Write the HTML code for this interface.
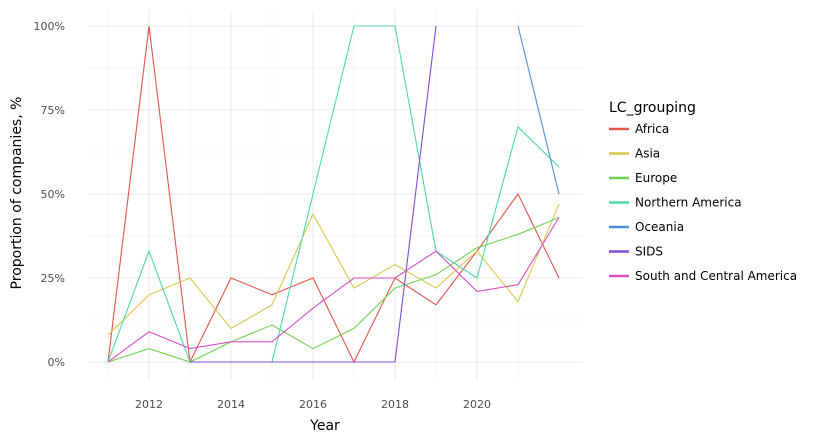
<!DOCTYPE html>
<html><head><meta charset="utf-8"><style>
body{margin:0;background:#fff;font-family:"Liberation Sans","DejaVu Sans",sans-serif}
svg text{font-family:"DejaVu Sans","Liberation Sans",sans-serif}
</style></head><body>
<svg id="chart" width="827" height="443" xmlns="http://www.w3.org/2000/svg"></svg>
<script>
const years=[2011,2012,2013,2014,2015,2016,2017,2018,2019,2020,2021,2022];
const seriesNames=["Africa","Asia","Europe","Northern America","Oceania","SIDS","South and Central America"];
const seriesColors=["#e0564c","#d8c950","#73d152","#4fd8a9","#4f8fd8","#7c4fd8","#d84fc6"];
const africa=[0,100,0,25,20,25,0,25,17,33,50,25];
const asia=[8,20,25,10,17,44,22,29,22,33,18,47];
const europe=[0,4,0,6,11,4,10,22,26,34,38,43];
const northernAmerica=[0,33,0,0,0,50,100,100,33,25,70,58];
const oceania=[null,null,null,null,null,null,null,null,null,null,100,50];
const sids=[null,null,0,0,0,0,0,0,100,null,null,null];
const southCentral=[0,9,4,6,6,16,25,25,33,21,23,43];
const allSeries=[africa,asia,europe,northernAmerica,oceania,sids,southCentral];
const yTicks=[0,25,50,75,100];
const yTickLabels=["0%","25%","50%","75%","100%"];
const xTicks=[2012,2014,2016,2018,2020];

const svg=document.getElementById('chart');
const NS="http://www.w3.org/2000/svg";
const X=y=>108+(y-2011)*41;
const Y=v=>362-v*3.36;
function mk(tag,attrs,parent){const e=document.createElementNS(NS,tag);for(const k in attrs)e.setAttribute(k,attrs[k]);(parent||svg).appendChild(e);return e;}
for(let yr=2011;yr<=2022;yr+=2){const l=mk('line',{x1:X(yr),x2:X(yr),y1:10,y2:380,stroke:'#f5f5f5','stroke-width':1});

}
for(let v=12.5;v<100;v+=25){const l=mk('line',{x1:88,x2:582,y1:Y(v),y2:Y(v),stroke:'#f5f5f5','stroke-width':1});

}
xTicks.forEach(t=>{const l=mk('line',{x1:X(t),x2:X(t),y1:10,y2:380,stroke:'#e8e8e8','stroke-width':1});


const tx=mk('text',{x:X(t),y:408,'text-anchor':'middle','font-size':11,fill:'#4d4d4d'});tx.textContent=t;

});
yTicks.forEach((t,i)=>{const l=mk('line',{x1:88,x2:582,y1:Y(t),y2:Y(t),stroke:'#e8e8e8','stroke-width':1});


const tx=mk('text',{x:65,y:Y(t)+4,'text-anchor':'end','font-size':11,fill:'#4d4d4d'});tx.textContent=yTickLabels[i];

});
allSeries.forEach((s,i)=>{let d='';let pen=false;s.forEach((v,j)=>{if(v===null){pen=false;return;}d+=(pen?'L':'M')+X(years[j])+','+Y(v);pen=true;});
const p=mk('path',{d:d,fill:'none',stroke:seriesColors[i],'stroke-width':1.1});

});
const xt=mk('text',{x:325,y:430,'text-anchor':'middle','font-size':14,fill:'#000'});xt.textContent='Year';


const yt=mk('text',{x:0,y:0,'text-anchor':'middle','font-size':14,fill:'#000',transform:'translate(21,193) rotate(-90)'});yt.textContent='Proportion of companies, %';


const lt=mk('text',{x:609,y:112,'font-size':14,fill:'#000'});lt.textContent='LC_grouping';


seriesNames.forEach((n,i)=>{const g=mk('g',{});


const yy=129+i*24.5;mk('line',{x1:609,x2:629,y1:yy,y2:yy,stroke:seriesColors[i],'stroke-width':2.5},g);
const t=mk('text',{x:635,y:yy+4,'font-size':12,fill:'#000'},g);t.textContent=n;});
</script>
</body></html>
